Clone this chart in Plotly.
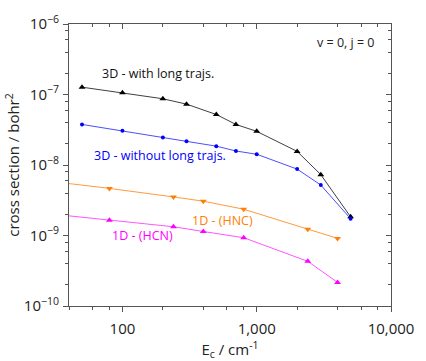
import plotly.graph_objects as go

# Data (collision energy in cm^-1, cross section in bohr^2)
x_3d = [50, 100, 200, 300, 500, 700, 1000, 2000, 3000, 5000]
y_3d_long = [1.27e-7, 1.06e-7, 8.7e-8, 7.3e-8, 5.2e-8, 3.76e-8, 3.0e-8, 1.56e-8, 7.3e-9, 1.84e-9]
y_3d_nolong = [3.76e-8, 3.05e-8, 2.46e-8, 2.17e-8, 1.85e-8, 1.58e-8, 1.42e-8, 8.75e-9, 5.2e-9, 1.73e-9]

x_1d = [40, 80, 240, 400, 800, 2400, 4000]
y_1d_hnc = [5.45e-9, 4.66e-9, 3.52e-9, 3.07e-9, 2.36e-9, 1.23e-9, 9.1e-10]
y_1d_hcn = [1.9e-9, 1.64e-9, 1.33e-9, 1.14e-9, 9.3e-10, 4.3e-10, 2.16e-10]

x_tickvals = [100, 1000, 10000]
x_ticktext = ["100", "1,000", "10,000"]
y_tickvals = [1e-10, 1e-9, 1e-8, 1e-7, 1e-6]
y_ticktext = ["10<sup>−10</sup>", "10<sup>−9</sup>", "10<sup>−8</sup>", "10<sup>−7</sup>", "10<sup>−6</sup>"]

x_minor = [m * 10 ** e for e in range(1, 4) for m in (2, 4, 6, 8)]
y_minor = [m * 10.0 ** e for e in range(-10, -6) for m in (2, 4, 6, 8)]

FONT = "Open Sans"
AX = "#555555"

fig = go.Figure()

def add(x, y, line_color, marker_color, symbol, size):
    fig.add_trace(go.Scatter(
        x=x, y=y, mode="lines+markers",
        line=dict(color=line_color, width=1),
        marker=dict(color=marker_color, symbol=symbol, size=size),
        showlegend=False, cliponaxis=False,
    ))

add(x_3d, y_3d_long, "#404040", "#000000", "triangle-up", 6)
add(x_3d, y_3d_nolong, "#4d4dff", "#0000ff", "circle", 4)
add(x_1d, y_1d_hnc, "#ff9a3c", "#ff7f00", "triangle-down", 6)
add(x_1d, y_1d_hcn, "#ff55ff", "#ff00ff", "triangle-up", 6)

# dummy trace for the mirrored (top/right) axes with inside ticks
fig.add_trace(go.Scatter(x=[], y=[], xaxis="x2", yaxis="y2", showlegend=False))

xr = [1.60206, 4]
yr = [-10, -6]

common = dict(showgrid=False, zeroline=False, showline=True, linecolor=AX, linewidth=1,
              tickcolor=AX, tickwidth=1)

fig.update_layout(
    width=426, height=361,
    margin=dict(l=69, r=24, t=20, b=44),
    paper_bgcolor="white", plot_bgcolor="white",
    font=dict(family=FONT, size=14, color="#222222"),
    xaxis=dict(type="log", range=xr, tickvals=x_tickvals, ticktext=x_ticktext,
               ticks="outside", ticklen=5, ticklabelstandoff=4,
               minor=dict(tickvals=x_minor, ticks="outside", ticklen=3, tickcolor=AX),
               title=dict(text="E<sub>c</sub> / cm<sup>-1</sup>", standoff=0, font=dict(size=15)),
               tickfont=dict(size=15), **common),
    yaxis=dict(type="log", range=yr, tickvals=y_tickvals, ticktext=y_ticktext,
               ticks="outside", ticklen=5, ticklabelstandoff=1,
               minor=dict(tickvals=y_minor, ticks="outside", ticklen=3, tickcolor=AX),
               title=dict(text="cross section / bohr<sup>2</sup>", standoff=0, font=dict(size=15)),
               tickfont=dict(size=15), **common),
    xaxis2=dict(type="log", range=xr, overlaying="x", side="top", anchor="y2",
                tickvals=x_tickvals, showticklabels=False, ticks="inside", ticklen=5,
                minor=dict(tickvals=x_minor, ticks="inside", ticklen=3, tickcolor=AX),
                **common),
    yaxis2=dict(type="log", range=yr, overlaying="y", side="right", anchor="x2",
                tickvals=y_tickvals, showticklabels=False, ticks="inside", ticklen=5,
                minor=dict(tickvals=y_minor, ticks="inside", ticklen=3, tickcolor=AX),
                **common),
)

ann = [
    ("v = 0, j = 0", 355, 39, "#222222"),
    ("3D - with long trajs.", 161, 72, "#111111"),
    ("3D - without long trajs.", 163, 158, "#0000ff"),
    ("1D - (HNC)", 228, 227, "#ff7f00"),
    ("1D - (HCN)", 145, 243, "#ff00ff"),
]
for text, px, py, col in ann:
    fig.add_annotation(text=text, xref="paper", yref="paper",
                       x=(px - 69) / (401.7 - 69), y=1 - (py - 20) / (316.7 - 20),
                       showarrow=False, xanchor="center", yanchor="middle",
                       font=dict(family=FONT, size=12.5, color=col))

fig.write_html("out.html")
